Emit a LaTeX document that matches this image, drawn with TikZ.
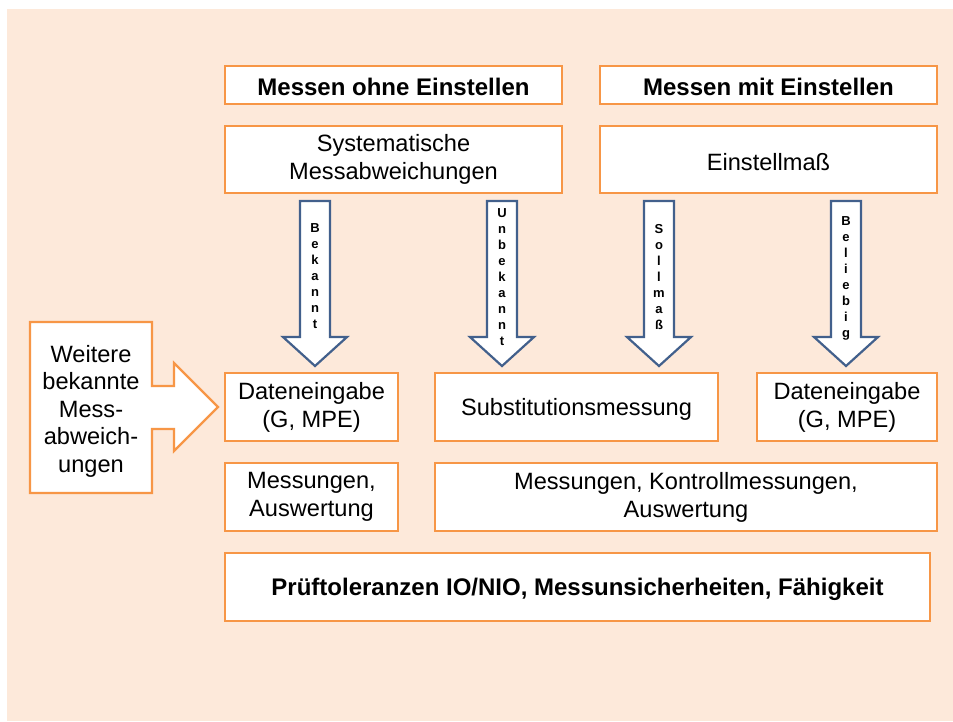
\documentclass[tikz,border=0pt]{standalone}
\usepackage{fontspec}
\setmainfont{Liberation Sans}
\definecolor{bgpeach}{HTML}{FDE9DA}
\definecolor{boxorange}{HTML}{F79646}
\definecolor{arrowblue}{RGB}{66,96,140}
\begin{document}
\begin{tikzpicture}[x=1pt,y=-1pt,
  box/.style={draw=boxorange,line width=2.6pt,fill=white,inner sep=2pt,align=center,
    font=\fontsize{23.6}{28}\selectfont,execute at begin node={\rule{0pt}{22pt}}},
  titlebox/.style={box,font=\fontsize{24}{28}\selectfont\bfseries},
  blockarrow/.style={draw=arrowblue,line width=2.2pt,fill=white,line join=miter},
  arrowtext/.style={align=center,inner sep=0pt,font=\fontsize{13}{16}\selectfont\bfseries},
  callout/.style={draw=boxorange,line width=2.2pt,fill=white,line join=miter}]
\useasboundingbox (0,0) rectangle (953,721);
\fill[white] (0,0) rectangle (953,721);
\fill[bgpeach] (7,9) rectangle (953,721);

% top titles
\node[titlebox,minimum width=337pt,minimum height=38pt] (t1) at (393.5,85) {Messen ohne Einstellen};
\node[titlebox,minimum width=337pt,minimum height=38pt] (t2) at (768.5,85) {Messen mit Einstellen};
% second row
\node[box,minimum width=337pt,minimum height=67pt] (s1) at (393.5,159.5) {Systematische\\Messabweichungen};
\node[box,minimum width=337pt,minimum height=67pt] (s2) at (768.5,159.5) {Einstellmaß};

% block arrows
\foreach \cx/\nm/\txt/\cy in {315/a1/{B\\e\\k\\a\\n\\n\\t}/276,
                          502/a2/{U\\n\\b\\e\\k\\a\\n\\n\\t}/277,
                          659/a3/{S\\o\\l\\l\\m\\a\\ß}/277,
                          846/a4/{B\\e\\l\\i\\e\\b\\i\\g}/278}{
  \draw[blockarrow] (\cx-15,201) -- (\cx+15,201) -- (\cx+15,337) -- (\cx+32,337)
     -- (\cx,366) -- (\cx-32,337) -- (\cx-15,337) -- cycle;
  \node[arrowtext] (\nm) at (\cx,\cy) {\txt};
}

% callout
\draw[callout] (30,322) -- (152,322) -- (152,386) -- (174,386) -- (174,363) -- (218,407)
   -- (174,451) -- (174,429) -- (152,429) -- (152,493) -- (30,493) -- cycle;
\node[align=center,inner sep=0pt,font=\fontsize{23.6}{27.5}\selectfont] (w) at (91,411)
   {Weitere\\bekannte\\Mess-\\abweich-\\ungen};

% third row
\node[box,minimum width=173pt,minimum height=68pt] (d1) at (311.5,407) {Dateneingabe\\(G, MPE)};
\node[box,minimum width=283pt,minimum height=68pt] (sub) at (576.5,407) {Substitutionsmessung};
\node[box,minimum width=180pt,minimum height=68pt] (d2) at (847,407) {Dateneingabe\\(G, MPE)};
% fourth row
\node[box,minimum width=173pt,minimum height=68pt] (m1) at (311.5,497) {Messungen,\\Auswertung};
\node[box,minimum width=502pt,minimum height=68pt] (m2) at (686,497) {Messungen, Kontrollmessungen,\\Auswertung};
% bottom
\node[titlebox,minimum width=705pt,minimum height=68pt] (p) at (577.5,587) {Prüftoleranzen IO/NIO, Messunsicherheiten, Fähigkeit};
\end{tikzpicture}
\end{document}
